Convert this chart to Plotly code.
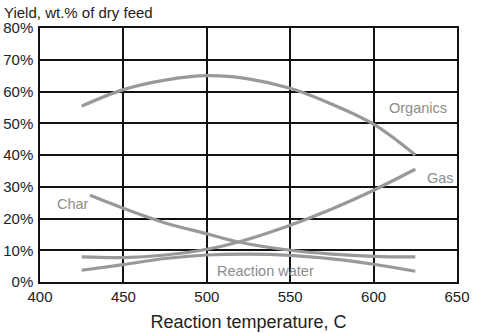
import plotly.graph_objects as go

organics_t = [425, 450, 475, 500, 525, 550, 575, 600, 625]
organics_y = [55.4, 60.6, 63.6, 65.0, 64.0, 61.0, 56.0, 49.7, 40.0]

gas_t = [425, 450, 475, 500, 519, 550, 575, 600, 625]
gas_y = [7.9, 7.7, 8.5, 10.3, 12.6, 17.9, 23.0, 28.9, 35.5]

char_t = [430, 450, 475, 500, 519, 550, 575, 600, 625]
char_y = [27.3, 23.2, 18.6, 15.2, 12.6, 10.0, 8.8, 8.1, 7.9]

water_t = [425, 450, 475, 500, 525, 550, 575, 600, 625]
water_y = [3.7, 5.5, 7.4, 8.5, 8.8, 8.4, 7.3, 5.6, 3.4]

series = [("Organics", organics_t, organics_y), ("Gas", gas_t, gas_y),
          ("Char", char_t, char_y), ("Reaction water", water_t, water_y)]

labels = [("Organics", 626.5, 54.8), ("Gas", 640, 32.9), ("Char", 419.5, 24.7),
          ("Reaction water", 535, 3.4)]

FONT = "Liberation Sans, Arial"

fig = go.Figure()
for name, t, y in series:
    fig.add_trace(go.Scatter(x=t, y=y, mode="lines", name=name,
                             line=dict(color="#999999", width=3.2, shape="spline", smoothing=1.0)))

for txt, x, y in labels:
    fig.add_annotation(x=x, y=y, text=txt, showarrow=False,
                       font=dict(family=FONT, size=14.5, color="#8c8c8c"))

fig.add_annotation(xref="paper", yref="paper", x=-0.092, y=1.0, yshift=16,
                   xanchor="left", yanchor="middle", text="Yield, wt.% of dry feed",
                   showarrow=False, font=dict(family=FONT, size=15, color="#222"))

fig.update_layout(
    width=480, height=333, margin=dict(l=40, r=23, t=28, b=51),
    paper_bgcolor="white", plot_bgcolor="white", showlegend=False,
    font=dict(family=FONT, size=15, color="#222"),
)
fig.update_xaxes(range=[400, 650], tickvals=[400, 450, 500, 550, 600, 650],
                 showgrid=True, gridcolor="#111", gridwidth=1.5,
                 showline=True, linecolor="#111", linewidth=1.5, mirror=True,
                 zeroline=False, ticks="", automargin=False,
                 title=dict(text="Reaction temperature, C", standoff=12))
fig.update_yaxes(range=[0, 80], tickvals=[0, 10, 20, 30, 40, 50, 60, 70, 80],
                 ticktext=[f"{v}%" for v in [0, 10, 20, 30, 40, 50, 60, 70, 80]],
                 showgrid=True, gridcolor="#111", gridwidth=1.5,
                 showline=True, linecolor="#111", linewidth=1.5, mirror=True,
                 zeroline=False, ticks="", automargin=False, ticklabelstandoff=2)

fig.write_html("out.html", config={"displayModeBar": False},
               post_script="document.body.style.margin='0';document.body.style.overflow='hidden';")
